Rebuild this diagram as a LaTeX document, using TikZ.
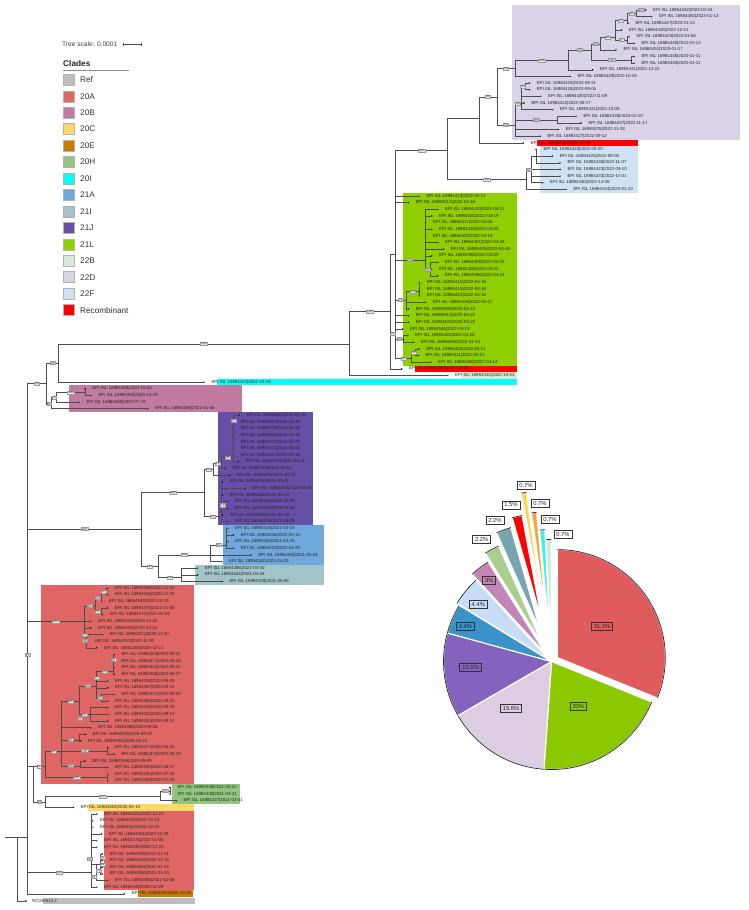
\documentclass[tikz,border=0pt]{standalone}
\usepackage{fontspec}
\setmainfont{Liberation Sans}
\usetikzlibrary{calc}
\definecolor{brc}{HTML}{4D4D4D}
\definecolor{bsfill}{HTML}{E6E6E6}
\definecolor{bsdraw}{HTML}{9A9A9A}
\definecolor{cRef}{HTML}{BDBDBD}
\definecolor{c20A}{HTML}{E06666}
\definecolor{c20B}{HTML}{C27BA0}
\definecolor{c20C}{HTML}{FFD966}
\definecolor{c20E}{HTML}{CC7A00}
\definecolor{c20H}{HTML}{93C47D}
\definecolor{c20I}{HTML}{00FFFF}
\definecolor{c21A}{HTML}{6FA8DC}
\definecolor{c21I}{HTML}{A2C4C9}
\definecolor{c21J}{HTML}{674EA7}
\definecolor{c21L}{HTML}{8FCE00}
\definecolor{c22B}{HTML}{D9EAD3}
\definecolor{c22D}{HTML}{D9D2E9}
\definecolor{c22F}{HTML}{CFE2F3}
\definecolor{cRec}{HTML}{FF0000}
\definecolor{p20A}{HTML}{E05C5C}
\definecolor{p21L}{HTML}{8CC800}
\definecolor{p22D}{HTML}{DCCDE3}
\definecolor{p21J}{HTML}{8562BE}
\definecolor{p21A}{HTML}{3A93C8}
\definecolor{p22F}{HTML}{C6DDF5}
\definecolor{p20B}{HTML}{C384B6}
\definecolor{p20H}{HTML}{A9CF8C}
\definecolor{p21I}{HTML}{76A5AF}
\definecolor{pRec}{HTML}{FF0000}
\definecolor{p20C}{HTML}{FFD34F}
\definecolor{p20E}{HTML}{F7A440}
\definecolor{p20I}{HTML}{36F2F2}
\definecolor{p22B}{HTML}{C7EBD5}
\newcommand{\leafnode}[4]{%
  \coordinate (#1) at (#2,{10+#3*6.645});%
  \fill[black] (#1) circle[radius=0.8];%
  \node[lbl] (#1t) at ([xshift=7.3]#1) {EPI ISL #4};%
}
\newcommand{\tkids}[2]{\foreach \kk in {#2}{\draw[br] (#1) |- (\kk);}}
\newcommand{\bgrows}[5]{\fill[#1] (#2,{6.68+#3*6.645}) rectangle (#4,{13.32+#5*6.645});}
\newcommand{\bsE}[3]{\path (#1 |- #2) coordinate (bstmp); \node[bsl] at ($(bstmp)!0.5!(#2)$) {#3};}
\newcommand{\bsX}[3]{\node[bsl] at (#1,#2) {#3};}
\begin{document}
\begin{tikzpicture}[x=1pt,y=-1pt,
  br/.style={draw=brc,line width=0.55pt},
  lbl/.style={anchor=west,inner sep=0pt,font=\fontsize{4.4}{4.4}\selectfont,text=black!85},
  bsl/.style={fill=bsfill,draw=bsdraw,line width=0.25pt,inner xsep=0.7pt,inner ysep=0.45pt,font=\fontsize{3.1}{3.1}\selectfont,text=black!70},
  pbox/.style={draw=black!80,line width=0.8pt,inner xsep=2.4pt,inner ysep=1.9pt,font=\fontsize{5.8}{5.8}\selectfont,text=black!85},
  pout/.style={pbox,fill=white},
  legsq/.style={draw=black!30,line width=0.5pt,minimum size=11pt,inner sep=0pt},
  legtx/.style={anchor=west,inner sep=0pt,font=\fontsize{8.2}{8.2}\selectfont,text=black!80},
  pieedge/.style={draw=black!85,line width=0.7pt}
]
\fill[white] (0,0) rectangle (748,910);
\useasboundingbox (0,0) rectangle (748,910);

% ---------- legend ----------
\node[anchor=west,inner sep=0pt,font=\fontsize{6.6}{6.6}\selectfont,text=black!75] (tsc) at (62,44.3) {Tree scale: 0.0001};
\coordinate (sb1) at (123.3,44.3);
\coordinate (sb2) at (141,44.3);
\draw[black!70,line width=0.5pt] (sb1) -- (sb2);
\draw[black!70,line width=0.5pt] ([yshift=-1.5pt]sb1) -- ([yshift=1.5pt]sb1);
\draw[black!70,line width=0.5pt] ([yshift=-1.5pt]sb2) -- ([yshift=1.5pt]sb2);
\node[anchor=west,inner sep=0pt,font=\bfseries\fontsize{8.3}{8.3}\selectfont,text=black!85] (cl) at (63,63.3) {Clades};
\coordinate (ul1) at (63.3,70.3);
\coordinate (ul2) at (129.3,70.3);
\draw[black!45,line width=0.5pt] (ul1) -- (ul2);
\foreach \nm/\col [count=\i from 0] in {Ref/cRef,20A/c20A,20B/c20B,20C/c20C,20E/c20E,20H/c20H,20I/c20I,21A/c21A,21I/c21I,21J/c21J,21L/c21L,22B/c22B,22D/c22D,22F/c22F,Recombinant/cRec}{
  \node[legsq,fill=\col] (lsq\i) at (69,{79.8+\i*16.45}) {};
  \node[legtx] (ltx\i) at (80,{79.8+\i*16.45}) {\nm};
}

% ---------- clade backgrounds ----------
\fill[c22D] (512,5) rectangle (740,{13.32+19*6.645});
\bgrows{cRec}{536.7}{20}{637.7}{20}
\bgrows{c22F}{540}{21}{637.7}{27}
\bgrows{c21L}{402.7}{28}{516.7}{53}
\bgrows{cRec}{415}{54}{516.7}{54}
\bgrows{c22B}{462}{55}{516.7}{55}
\bgrows{c20I}{217}{56}{516.7}{56}
\bgrows{c20B}{69.3}{57}{241.7}{60}
\bgrows{c21J}{218.3}{61}{312.7}{77}
\bgrows{c21A}{223.3}{78}{324}{83}
\bgrows{c21I}{195}{84}{324}{86}
\bgrows{c20A}{41}{87}{194.3}{116}
\bgrows{c20H}{172.3}{117}{240}{119}
\bgrows{c20C}{88}{120}{194.3}{120}
\bgrows{c20A}{104.3}{121}{194.3}{132}
\bgrows{c20E}{137.7}{133}{193.3}{133}
\fill[cRef] (43,897.8) rectangle (195,904.4);

% ---------- leaves ----------
\leafnode{d1}{645.7}{0}{16984442|2023-01-04}
\leafnode{d2}{651.7}{1}{16984450|2023-01-13}
\leafnode{d3}{628}{2}{16984447|2023-01-13}
\leafnode{d4}{621.7}{3}{16984439|2022-12-12}
\leafnode{d5}{629}{4}{16984443|2023-01-06}
\leafnode{d6}{634}{5}{16984448|2023-01-13}
\leafnode{d7}{616}{6}{16984451|2023-01-17}
\leafnode{d8}{634}{7}{16984446|2023-01-11}
\leafnode{d9}{634}{8}{16984445|2023-01-11}
\leafnode{d10}{592.7}{9}{16984441|2022-12-22}
\leafnode{d11}{570}{10}{16984429|2022-10-18}
\leafnode{d12}{529.3}{11}{16984428|2022-09-21}
\leafnode{d13}{529.3}{12}{16984426|2022-09-05}
\leafnode{d14}{540.7}{13}{16984430|2022-11-09}
\leafnode{d15}{524}{14}{16984422|2022-08-17}
\leafnode{d16}{552.7}{15}{16984431|2022-10-06}
\leafnode{d17}{576}{16}{16984438|2023-01-10}
\leafnode{d18}{581}{17}{16984437|2022-11-17}
\leafnode{d19}{558.3}{18}{16984435|2022-11-18}
\leafnode{d20}{540}{19}{16984427|2022-09-12}
\leafnode{rec1}{523.3}{20}{16984434|2022-12-28}
\leafnode{f1}{536}{21}{16984424|2022-09-20}
\leafnode{f2}{552.3}{22}{16984425|2022-09-05}
\leafnode{f3}{560}{23}{16984436|2022-11-07}
\leafnode{f4}{560}{24}{16984423|2022-09-10}
\leafnode{f5}{560}{25}{16984433|2022-10-21}
\leafnode{f6}{542.7}{26}{16984440|2022-12-06}
\leafnode{f7}{566}{27}{16984444|2023-01-10}
\leafnode{l1}{419}{28}{16984414|2022-04-11}
\leafnode{l2}{408.3}{29}{16984412|2022-04-16}
\leafnode{l3}{437.7}{30}{16984410|2022-04-12}
\leafnode{l4}{431.7}{31}{16984404|2022-04-19}
\leafnode{l5}{425.7}{32}{16984417|2022-04-06}
\leafnode{l6}{431.7}{33}{16984418|2022-04-05}
\leafnode{l7}{425.7}{34}{16984420|2022-04-18}
\leafnode{l8}{437.7}{35}{16984407|2022-04-26}
\leafnode{l9}{443.3}{36}{16984405|2022-04-26}
\leafnode{l10}{431.7}{37}{16984398|2022-04-09}
\leafnode{l11}{437.7}{38}{16984409|2022-04-25}
\leafnode{l12}{431.7}{39}{16984408|2022-04-22}
\leafnode{l13}{437.7}{40}{16984396|2022-04-04}
\leafnode{l14}{419.3}{41}{16984416|2022-04-16}
\leafnode{l15}{419.3}{42}{16984415|2022-04-16}
\leafnode{l16}{419.3}{43}{16984421|2022-04-16}
\leafnode{l17}{425.7}{44}{16984419|2022-04-27}
\leafnode{l18}{408.3}{45}{16984399|2022-04-12}
\leafnode{l19}{408.3}{46}{16984413|2022-04-22}
\leafnode{l20}{408.3}{47}{16984403|2022-04-22}
\leafnode{l21}{402.7}{48}{16984548|2022-04-13}
\leafnode{l22}{407.7}{49}{16984401|2022-04-25}
\leafnode{l23}{413.3}{50}{16984400|2022-04-14}
\leafnode{l24}{419}{51}{16984402|2022-04-11}
\leafnode{l25}{418}{52}{16984411|2022-04-21}
\leafnode{l26}{430.7}{53}{16984406|2022-04-14}
\leafnode{rec2}{401.7}{54}{16984397|2022-04-08}
\leafnode{b22}{447.7}{55}{16984432|2022-10-03}
\leafnode{i20}{204}{56}{16984347|2021-04-18}
\leafnode{bb1}{85}{57}{16984389|2020-10-04}
\leafnode{bb2}{91}{58}{16984393|2020-10-29}
\leafnode{bb3}{79}{59}{16984380|2020-07-18}
\leafnode{bb4}{147.7}{60}{16984369|2021-01-06}
\leafnode{j1}{239.3}{61}{16984381|2021-04-30}
\leafnode{j2}{233.3}{62}{16984367|2021-04-18}
\leafnode{j3}{233.3}{63}{16984376|2021-04-28}
\leafnode{j4}{233.3}{64}{16984350|2021-04-16}
\leafnode{j5}{233.3}{65}{16984370|2021-04-20}
\leafnode{j6}{233.3}{66}{16984373|2021-04-23}
\leafnode{j7}{233.3}{67}{16984357|2021-04-16}
\leafnode{j8}{238.3}{68}{16984364|2021-04-21}
\leafnode{j9}{225}{69}{16984386|2021-05-01}
\leafnode{j10}{229.3}{70}{16984392|2021-04-27}
\leafnode{j11}{222.3}{71}{16984390|2021-05-01}
\leafnode{j12}{245}{72}{16984352|2021-04-24}
\leafnode{j13}{222.3}{73}{16984382|2021-05-03}
\leafnode{j14}{227.7}{74}{16984360|2021-04-30}
\leafnode{j15}{227.7}{75}{16984354|2021-04-30}
\leafnode{j16}{222.3}{76}{16984355|2021-04-26}
\leafnode{j17}{227.7}{77}{16984379|2021-05-05}
\leafnode{a1}{227.7}{78}{16984328|2021-04-19}
\leafnode{a2}{233.3}{79}{16984336|2021-04-12}
\leafnode{a3}{227.7}{80}{16984325|2021-04-20}
\leafnode{a4}{233.3}{81}{16984322|2021-04-20}
\leafnode{a5}{251}{82}{16984384|2021-05-04}
\leafnode{a6}{221.7}{83}{16984342|2021-04-20}
\leafnode{t1}{197.7}{84}{16984388|2021-04-30}
\leafnode{t2}{197.7}{85}{16984344|2021-04-26}
\leafnode{t3}{222}{86}{16984339|2021-05-06}
\leafnode{m1}{107.7}{87}{16984356|2020-12-31}
\leafnode{m2}{107.7}{88}{16984346|2020-12-29}
\leafnode{m3}{101.7}{89}{16984343|2020-12-29}
\leafnode{m4}{107.7}{90}{16984375|2021-01-05}
\leafnode{m5}{102.7}{91}{16984372|2021-01-04}
\leafnode{m6}{90.7}{92}{16984329|2020-12-22}
\leafnode{m7}{90.7}{93}{16984326|2020-12-21}
\leafnode{m8}{102.3}{94}{16984321|2020-11-30}
\leafnode{m9}{87.5}{95}{16984313|2020-11-30}
\leafnode{m10}{96.7}{96}{16984308|2020-12-21}
\leafnode{m11}{114}{97}{16984353|2020-09-21}
\leafnode{m12}{114}{98}{16984371|2020-08-18}
\leafnode{m13}{114}{99}{16984323|2020-09-11}
\leafnode{m14}{114}{100}{16984358|2020-08-17}
\leafnode{m15}{107.7}{101}{16984318|2020-09-09}
\leafnode{m16}{107.7}{102}{16984387|2020-09-24}
\leafnode{m17}{114}{103}{16984337|2020-09-24}
\leafnode{m18}{107.7}{104}{16984385|2020-09-24}
\leafnode{m19}{107.7}{105}{16984334|2020-09-24}
\leafnode{m20}{107.7}{106}{16984331|2020-09-15}
\leafnode{m21}{107.7}{107}{16984320|2020-09-11}
\leafnode{m22}{90.7}{108}{16984368|2020-09-06}
\leafnode{m23}{85.3}{109}{16984340|2020-08-25}
\leafnode{m24}{80.5}{110}{16984362|2020-08-24}
\leafnode{m25}{107.7}{111}{16984377|2020-06-22}
\leafnode{m26}{114}{112}{16984374|2020-08-19}
\leafnode{m27}{85}{113}{16984366|2020-09-09}
\leafnode{m28}{107.7}{114}{16984395|2020-08-27}
\leafnode{m29}{107.7}{115}{16984345|2020-07-25}
\leafnode{m30}{107.7}{116}{16984348|2020-07-25}
\leafnode{h1}{170}{117}{16984338|2021-03-31}
\leafnode{h2}{170}{118}{16984330|2021-03-31}
\leafnode{h3}{176}{119}{16984327|2021-03-31}
\leafnode{c1}{73.3}{120}{16984363|2020-05-13}
\leafnode{p1}{96.7}{121}{16984324|2020-12-21}
\leafnode{p2}{92.5}{122}{16984341|2020-12-23}
\leafnode{p3}{92.5}{123}{16984332|2020-12-22}
\leafnode{p4}{101.7}{124}{16984351|2020-12-29}
\leafnode{p5}{96.7}{125}{16984378|2021-01-05}
\leafnode{p6}{96.7}{126}{16984335|2020-12-22}
\leafnode{p7}{102.3}{127}{16984359|2021-01-01}
\leafnode{p8}{102.3}{128}{16984354|2020-12-30}
\leafnode{p9}{102.3}{129}{16984361|2021-01-02}
\leafnode{p10}{102.3}{130}{16984360|2021-01-04}
\leafnode{p11}{107.7}{131}{16984365|2021-01-06}
\leafnode{p12}{96.7}{132}{16984349|2020-12-29}
\leafnode{e1}{124.3}{133}{16984391|2020-10-20}
\coordinate (ref) at (26,901);
\fill[black] (ref) circle[radius=0.8];
\node[lbl] (reft) at ([xshift=6]ref) {NC045512.2};

% ---------- internal nodes ----------
\coordinate (root0) at (5,837);
\coordinate (root) at (17,837);
\coordinate (R1) at (27,837);
\coordinate (A) at (46.7,383.5);
\coordinate (B) at (58.3,363);
\coordinate (C) at (349.3,343.8);
\coordinate (D) at (390,311.7);
\coordinate (U) at (395,254.5);
\coordinate (D1) at (447.7,150.7);
\coordinate (D1a) at (479,118);
\coordinate (D1b) at (497,96.8);
\coordinate (W1) at (515,68.6);
\coordinate (W1a) at (568.3,60.2);
\coordinate (W1b) at (591.7,50);
\coordinate (W1c) at (600,44);
\coordinate (W1e) at (615,37.3);
\coordinate (W1h) at (627,20.7);
\coordinate (W1i) at (636.7,13.3);
\coordinate (W1g) at (627.5,40);
\coordinate (W1d) at (631.7,60);
\coordinate (W2) at (515,125);
\coordinate (W2a) at (521,103.3);
\coordinate (W2c) at (525,86.7);
\coordinate (W2b) at (557,120);
\coordinate (F0) at (526,179.3);
\coordinate (F1) at (531,170);
\coordinate (F2) at (536,156.2);
\coordinate (Y1) at (425,260);
\coordinate (Y1a) at (430.5,270);
\coordinate (Y2) at (406.7,300);
\coordinate (Y2a) at (419.3,291.7);
\coordinate (Y3) at (403.3,339);
\coordinate (Y4) at (411.7,358.3);
\coordinate (Y4a) at (415.5,352.2);
\coordinate (E) at (51.7,404);
\coordinate (E2) at (56.7,397.7);
\coordinate (F) at (85,392.7);
\coordinate (G) at (141.7,529);
\coordinate (H) at (204.3,492.3);
\coordinate (J1) at (213.3,469.3);
\coordinate (J1c) at (221.7,463.3);
\coordinate (J1a) at (233.3,457.7);
\coordinate (J2) at (221,516.7);
\coordinate (J2b) at (224.5,505.1);
\coordinate (I) at (158.3,566.7);
\coordinate (K) at (210,554.9);
\coordinate (K1) at (226.7,545);
\coordinate (L) at (181.7,577.3);
\coordinate (M) at (84,621.4);
\coordinate (M1) at (95,606);
\coordinate (M1a) at (101,598);
\coordinate (M1c) at (106,591.5);
\coordinate (M1b) at (101,611.4);
\coordinate (M2) at (86,634.7);
\coordinate (N1) at (33.3,766.7);
\coordinate (Q) at (45,766.7);
\coordinate (Q1) at (61.7,751.7);
\coordinate (Q1a) at (79,701.7);
\coordinate (Q1e) at (96.7,686);
\coordinate (Q1g) at (113.3,671.7);
\coordinate (Q1i) at (101.7,698);
\coordinate (Q1f) at (90,714.4);
\coordinate (Q1b) at (79,740);
\coordinate (Q1d) at (107.7,751);
\coordinate (Q1c) at (80,766);
\coordinate (Q2) at (107.7,777.6);
\coordinate (S) at (45,802);
\coordinate (T) at (160,796.7);
\coordinate (T1) at (170,791);
\coordinate (P) at (91,872.7);
\coordinate (P1) at (96,864);
\coordinate (P2) at (100.3,864);

% ---------- branches ----------
\draw[br] (root0) -- (root);
\tkids{root}{R1,ref}
\tkids{R1}{A,G,M,N1,P,e1}
\tkids{A}{B,E}
\tkids{B}{C,i20}
\tkids{C}{D,b22}
\tkids{D}{U,rec2}
\tkids{U}{D1,l1,l2,Y1,Y2,l19,l20,l21,Y3,Y4}
\tkids{D1}{D1a,F0}
\tkids{D1a}{D1b,rec1}
\tkids{D1b}{W1,W2}
\tkids{W1}{W1a,d11}
\tkids{W1a}{W1b,d10}
\tkids{W1b}{W1c,W1d}
\tkids{W1c}{W1e,d7}
\tkids{W1e}{W1h,d4,W1g}
\tkids{W1h}{W1i,d3}
\tkids{W1i}{d1,d2}
\tkids{W1g}{d5,d6}
\tkids{W1d}{d8,d9}
\tkids{W2}{W2a,W2b,d19,d20}
\tkids{W2a}{W2c,d14,d15,d16}
\tkids{W2c}{d12,d13}
\tkids{W2b}{d17,d18}
\tkids{F0}{F1,f7}
\tkids{F1}{F2,f4,f5,f6}
\tkids{F2}{f1,f2,f3}
\tkids{Y1}{l3,l4,l5,l6,l7,l8,l9,l10,Y1a}
\tkids{Y1a}{l11,l12,l13}
\tkids{Y2}{Y2a,l17,l18}
\tkids{Y2a}{l14,l15,l16}
\tkids{Y3}{l22,l23}
\tkids{Y4}{Y4a,l26}
\tkids{Y4a}{l24,l25}
\tkids{E}{E2,bb4}
\tkids{E2}{F,bb3}
\tkids{F}{bb1,bb2}
\tkids{G}{H,I}
\tkids{H}{J1,J2}
\tkids{J1}{J1c,j10}
\tkids{J1c}{J1a,j9}
\tkids{J1a}{j1,j2,j3,j4,j5,j6,j7,j8}
\tkids{J2}{j11,j12,j13,J2b,j16,j17}
\tkids{J2b}{j14,j15}
\tkids{I}{K,L}
\tkids{K}{K1,a5,a6}
\tkids{K1}{a1,a2,a3,a4}
\tkids{L}{t1,t2,t3}
\tkids{M}{M1,m6,m7,M2}
\tkids{M1}{M1a,M1b}
\tkids{M1a}{M1c,m3}
\tkids{M1c}{m1,m2}
\tkids{M1b}{m4,m5}
\tkids{M2}{m8,m9,m10}
\tkids{N1}{Q,S}
\tkids{Q}{Q1,Q2}
\tkids{Q1}{Q1a,m22,Q1b,Q1d,Q1c}
\tkids{Q1a}{Q1e,Q1f}
\tkids{Q1e}{Q1g,m15,m16,Q1i}
\tkids{Q1g}{m11,m12,m13,m14}
\tkids{Q1i}{m17,m18}
\tkids{Q1f}{m19,m20,m21}
\tkids{Q1b}{m23,m24}
\tkids{Q1d}{m25,m26}
\tkids{Q1c}{m27,m28}
\tkids{Q2}{m29,m30}
\tkids{S}{T,c1}
\tkids{T}{T1,h3}
\tkids{T1}{h1,h2}
\tkids{P}{p1,p2,p3,p4,p5,p6,P1,p12}
\tkids{P1}{P2,p11}
\tkids{P2}{p7,p8,p9,p10}

% ---------- bootstrap labels ----------
\bsE{R1}{A}{90}
\bsE{A}{B}{99}
\bsE{B}{C}{100}
\bsE{C}{D}{100}
\bsE{A}{E}{91}
\bsE{E}{E2}{73}
\bsE{E2}{F}{100}
\bsE{U}{D1}{100}
\bsE{D1}{F0}{100}
\bsE{F0}{F1}{60}
\bsE{D1a}{D1b}{98}
\bsE{D1b}{W1}{90}
\bsE{D1b}{W2}{80}
\bsE{W1}{W1a}{100}
\bsE{W1a}{W1b}{96}
\bsE{W1b}{W1c}{66}
\bsE{W1c}{W1e}{92}
\bsE{W1e}{W1h}{97}
\bsE{W1h}{W1i}{97}
\bsE{W1i}{d1}{100}
\bsE{W1e}{W1g}{67}
\bsE{W1b}{W1d}{100}
\bsE{W2}{W2a}{69}
\bsE{W2a}{W2c}{50}
\bsE{W2}{W2b}{100}
\bsE{U}{Y1}{65}
\bsE{Y1}{Y1a}{60}
\bsE{U}{Y2}{73}
\bsE{Y2}{Y2a}{84}
\bsE{U}{Y3}{58}
\bsE{U}{Y4}{34}
\bsE{Y4}{Y4a}{72}
\bsX{392.3}{333.3}{63}
\bsE{R1}{G}{100}
\bsE{G}{H}{100}
\bsE{G}{I}{99}
\bsE{H}{J1}{93}
\bsE{H}{J2}{93}
\bsE{J1}{J1c}{78}
\bsE{J1c}{J1a}{99}
\bsX{233.3}{421}{77}
\bsE{J2}{J2b}{79}
\bsE{I}{K}{100}
\bsE{K}{K1}{98}
\bsE{I}{L}{99}
\bsE{R1}{M}{100}
\bsE{M}{M1}{99}
\bsE{M1}{M1a}{99}
\bsE{M1a}{M1c}{97}
\bsE{M1}{M1b}{97}
\bsE{M}{M2}{93}
\bsX{85}{641}{96}
\bsX{27.3}{655}{83}
\bsE{N1}{Q}{82}
\bsE{N1}{S}{90}
\bsE{Q}{Q1}{59}
\bsE{Q}{Q2}{100}
\bsE{Q1}{Q1a}{70}
\bsE{Q1}{Q1b}{83}
\bsE{Q1}{Q1d}{100}
\bsE{Q1}{Q1c}{58}
\bsE{Q1a}{Q1e}{94}
\bsE{Q1a}{Q1f}{66}
\bsE{Q1e}{Q1g}{99}
\bsE{Q1e}{Q1i}{93}
\bsX{113.3}{660}{90}
\bsX{96.7}{677.3}{93}
\bsX{79.3}{719}{79}
\bsE{S}{T}{100}
\bsE{T}{T1}{100}
\bsE{R1}{P}{100}
\bsX{90}{859}{55}
\bsX{102.3}{858}{72}
\bsX{102.3}{864.5}{84}
\bsX{99}{870.5}{71}
\bsX{93.3}{877}{60}

% ---------- pie chart ----------
\coordinate (pc) at (551.5,661.5);
\def\pieR{108}
\foreach \ta/\tb/\dd/\col [count=\k] in {0/112/7/p20A,112/184/0/p21L,184/240/0/p22D,240/285.33/0/p21J,285.33/301.33/0/p21A,301.33/317.33/3/p22F,317.33/328/10/p20B,328/336/19/p20H,336/344/32/p21I,344/349.33/41/pRec,349.33/352/63/p20C,352/354.67/42/p20E,354.67/357.33/24/p20I,357.33/360/14/p22B}{
  \pgfmathsetmacro\angM{(\ta+\tb)/2-90}
  \pgfmathsetmacro\angA{\ta-90}
  \pgfmathsetmacro\angB{\tb-90}
  \coordinate (pa\k) at ($(pc)+(\angM:\dd)$);
  \filldraw[fill=\col,draw=white,line width=1.1pt,line join=round] (pa\k) -- ++(\angA:\pieR) arc[start angle=\angA,end angle=\angB,radius=\pieR] -- cycle;
  \draw[pieedge] (pa\k) ++(\angA:\pieR) arc[start angle=\angA,end angle=\angB,radius=\pieR];
}
\node[pbox] (pl1) at (602,626) {31.1\%};
\node[pbox] (pl2) at (578.3,706) {20\%};
\node[pbox] (pl3) at (511,708.7) {15.6\%};
\node[pbox] (pl4) at (470.5,667) {12.6\%};
\node[pbox] (pl5) at (465.5,626) {4.4\%};
\node[pbox] (pl6) at (478.3,604.3) {4.4\%};
\node[pbox] (pl7) at (489.3,580.7) {3\%};
\node[pout] (pl8) at (481.7,539.3) {2.2\%};
\node[pout] (pl9) at (495,520.7) {2.2\%};
\node[pout] (pl10) at (511,505) {1.5\%};
\node[pout] (pl11) at (526,485) {0.7\%};
\node[pout] (pl12) at (540,503.7) {0.7\%};
\node[pout] (pl13) at (550,519.3) {0.7\%};
\node[pout] (pl14) at (563,534) {0.7\%};
\end{tikzpicture}
\end{document}
